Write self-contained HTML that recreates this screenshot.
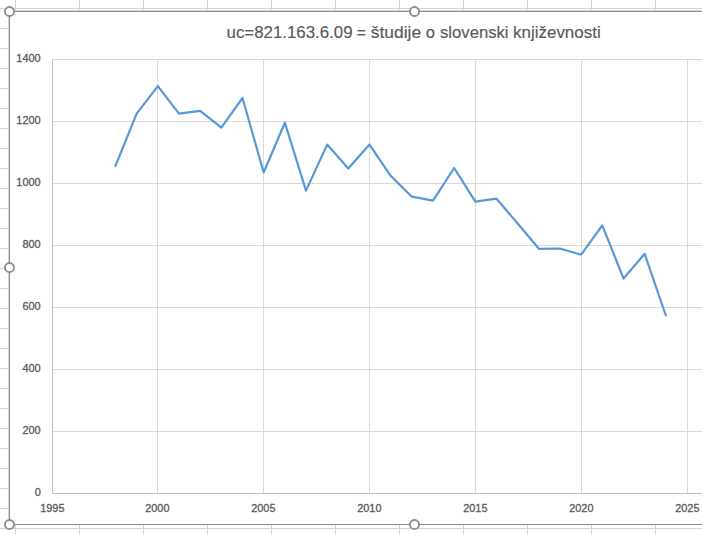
<!DOCTYPE html><html><head><meta charset="utf-8"><style>html,body{margin:0;padding:0;background:#fff;width:702px;height:534px;overflow:hidden}svg{display:block}text{font-family:"Liberation Sans",sans-serif;stroke:#595959;stroke-width:0.3px;paint-order:stroke}</style></head><body>
<svg width="702" height="534" viewBox="0 0 702 534" shape-rendering="crispEdges">
<rect x="0" y="0" width="702" height="534" fill="#fff"/>
<path d="M0 8.5H702M0 28.5H702M0 48.5H702M0 68.5H702M0 88.5H702M0 108.5H702M0 128.5H702M0 148.5H702M0 168.5H702M0 188.5H702M0 208.5H702M0 228.5H702M0 248.5H702M0 268.5H702M0 288.5H702M0 308.5H702M0 328.5H702M0 348.5H702M0 368.5H702M0 388.5H702M0 408.5H702M0 428.5H702M0 448.5H702M0 468.5H702M0 488.5H702M0 508.5H702M0 528.5H702M0 548.5H702M15.5 0V534M79.5 0V534M143.5 0V534M207.5 0V534M271.5 0V534M335.5 0V534M399.5 0V534M463.5 0V534M527.5 0V534M591.5 0V534M655.5 0V534M719.5 0V534" stroke="#D4D4D4" stroke-width="1" fill="none"/>
<rect x="9" y="11" width="693" height="514" fill="#fff"/>
<path d="M52 59.5H702M52 121.5H702M52 183.5H702M52 245.5H702M52 307.5H702M52 369.5H702M52 431.5H702M157.5 59V493M263.5 59V493M369.5 59V493M475.5 59V493M581.5 59V493M687.5 59V493" stroke="#D9D9D9" stroke-width="1" fill="none"/>
<path d="M52 493.5H702M52.5 59V494" stroke="#BFBFBF" stroke-width="1" fill="none"/>
<text x="16.34" y="61.65" font-size="11.2" fill="#595959" textLength="24.34" lengthAdjust="spacingAndGlyphs">1400</text>
<text x="16.34" y="123.65" font-size="11.2" fill="#595959" textLength="24.34" lengthAdjust="spacingAndGlyphs">1200</text>
<text x="16.34" y="185.65" font-size="11.2" fill="#595959" textLength="24.34" lengthAdjust="spacingAndGlyphs">1000</text>
<text x="22.45" y="247.65" font-size="11.2" fill="#595959" textLength="18.26" lengthAdjust="spacingAndGlyphs">800</text>
<text x="22.45" y="309.65" font-size="11.2" fill="#595959" textLength="18.26" lengthAdjust="spacingAndGlyphs">600</text>
<text x="22.45" y="371.65" font-size="11.2" fill="#595959" textLength="18.26" lengthAdjust="spacingAndGlyphs">400</text>
<text x="22.45" y="433.65" font-size="11.2" fill="#595959" textLength="18.26" lengthAdjust="spacingAndGlyphs">200</text>
<text x="34.68" y="495.65" font-size="11.2" fill="#595959" textLength="6.10" lengthAdjust="spacingAndGlyphs">0</text>
<text x="40.19" y="511.7" font-size="11.2" fill="#595959" textLength="24.27" lengthAdjust="spacingAndGlyphs">1995</text>
<text x="145.19" y="511.7" font-size="11.2" fill="#595959" textLength="24.27" lengthAdjust="spacingAndGlyphs">2000</text>
<text x="251.19" y="511.7" font-size="11.2" fill="#595959" textLength="24.27" lengthAdjust="spacingAndGlyphs">2005</text>
<text x="357.19" y="511.7" font-size="11.2" fill="#595959" textLength="24.27" lengthAdjust="spacingAndGlyphs">2010</text>
<text x="463.19" y="511.7" font-size="11.2" fill="#595959" textLength="24.27" lengthAdjust="spacingAndGlyphs">2015</text>
<text x="569.19" y="511.7" font-size="11.2" fill="#595959" textLength="24.27" lengthAdjust="spacingAndGlyphs">2020</text>
<text x="675.19" y="511.7" font-size="11.2" fill="#595959" textLength="24.27" lengthAdjust="spacingAndGlyphs">2025</text>
<text x="226.56" y="37.7" font-size="16.6" fill="#595959" style="stroke-width:0.15px" textLength="125.99" lengthAdjust="spacingAndGlyphs">uc=821.163.6.09</text>
<text x="356.70" y="37.7" font-size="16.6" fill="#595959" style="stroke-width:0.15px" textLength="9.08" lengthAdjust="spacingAndGlyphs">=</text>
<text x="370.77" y="37.7" font-size="16.6" fill="#595959" style="stroke-width:0.15px" textLength="50.38" lengthAdjust="spacingAndGlyphs">študije</text>
<text x="425.65" y="37.7" font-size="16.6" fill="#595959" style="stroke-width:0.15px" textLength="9.17" lengthAdjust="spacingAndGlyphs">o</text>
<text x="440.00" y="37.7" font-size="16.6" fill="#595959" style="stroke-width:0.15px" textLength="68.53" lengthAdjust="spacingAndGlyphs">slovenski</text>
<text x="513.05" y="37.7" font-size="16.6" fill="#595959" style="stroke-width:0.15px" textLength="87.63" lengthAdjust="spacingAndGlyphs">književnosti</text>
<polyline points="115.50,165.90 136.67,113.70 157.83,86.10 179.00,113.70 200.17,110.80 221.33,127.60 242.50,98.00 263.67,172.50 284.83,122.70 306.00,190.60 327.17,144.60 348.33,168.60 369.50,144.60 390.67,175.80 411.83,196.70 433.00,200.70 454.17,168.00 475.33,201.70 496.50,198.70 517.67,223.50 538.83,248.80 560.00,248.50 581.17,254.70 602.33,225.30 623.50,278.50 644.67,253.80 665.83,315.50" fill="none" stroke="#5599D6" stroke-width="2.2" stroke-linejoin="round" stroke-linecap="round" shape-rendering="geometricPrecision"/>
<path d="M8.5 11V525M9 10.5H702" stroke="#D4D4D4" stroke-width="1" fill="none"/>
<path d="M9.5 11V525M9 11.5H702M9 524.5H702" stroke="#8C8C8C" stroke-width="1" fill="none"/>
<circle cx="9.5" cy="11.5" r="4.55" fill="#fff" stroke="#8C8C8C" stroke-width="1.85" shape-rendering="geometricPrecision"/>
<circle cx="414.5" cy="11.5" r="4.55" fill="#fff" stroke="#8C8C8C" stroke-width="1.85" shape-rendering="geometricPrecision"/>
<circle cx="9.5" cy="267.5" r="4.55" fill="#fff" stroke="#8C8C8C" stroke-width="1.85" shape-rendering="geometricPrecision"/>
<circle cx="9.5" cy="524.5" r="4.55" fill="#fff" stroke="#8C8C8C" stroke-width="1.85" shape-rendering="geometricPrecision"/>
<circle cx="414.5" cy="524.5" r="4.55" fill="#fff" stroke="#8C8C8C" stroke-width="1.85" shape-rendering="geometricPrecision"/>
</svg></body></html>
